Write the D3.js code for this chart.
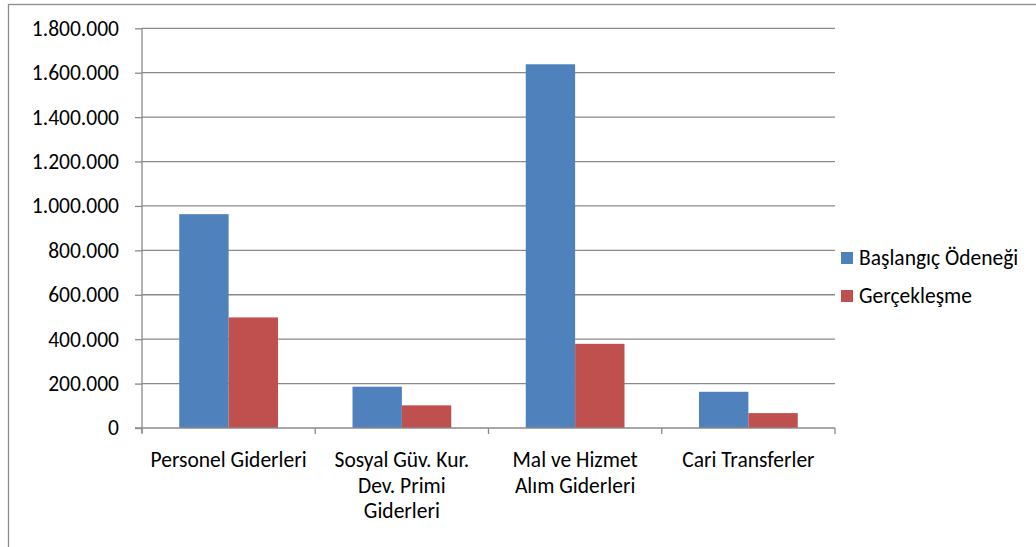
<!DOCTYPE html>
<html>
<head>
<meta charset="utf-8">
<script src="https://cdn.jsdelivr.net/npm/d3@7"></script>
<style>
  html, body { margin: 0; padding: 0; background: #fff; }
  svg text { font-family: Carlito, Lato, "Open Sans", sans-serif; fill: #000; }
</style>
</head>
<body>
<svg id="chart" width="1036" height="547"></svg>
<script>
const categories = ["Personel Giderleri", "Sosyal Güv. Kur. Dev. Primi Giderleri", "Mal ve Hizmet Alım Giderleri", "Cari Transferler"];
const seriesNames = ["Başlangıç Ödeneği", "Gerçekleşme"];
const baslangicOdenegi = [963000, 186000, 1638000, 163000];
const gerceklesme = [498000, 102000, 379000, 67000];
const yTicks = [0, 200000, 400000, 600000, 800000, 1000000, 1200000, 1400000, 1600000, 1800000];
const colors = ["#4F81BD", "#C0504D"];

const svg = d3.select("#chart");
const fontSize = 21.5;
const plot = { left: 142, right: 835, top: 28.3, bottom: 428 };

// outer border
svg.append("rect").attr("x", 8.5).attr("y", 4.5).attr("width", 1040).attr("height", 560)
  .attr("fill", "none").attr("stroke", "#8c8c8c").attr("stroke-width", 1.3);

const y = d3.scaleLinear().domain([0, 1800000]).range([plot.bottom, plot.top]);
const x0 = d3.scaleBand().domain(categories).range([plot.left, plot.right])
  .paddingInner(0.43).paddingOuter(0.215);
const x1 = d3.scaleBand().domain(seriesNames).range([0, x0.bandwidth()]);

const fmt = v => d3.format(",")(v).replace(/,/g, ".");

// gridlines
svg.append("g").selectAll("line").data(yTicks.filter(d => d > 0)).join("line")
  .attr("x1", plot.left).attr("x2", plot.right)
  .attr("y1", d => y(d)).attr("y2", d => y(d))
  .attr("stroke", "#8a8a8a").attr("stroke-width", 1.3);

// bars
const data = categories.map((c, i) => ({ c, vals: [baslangicOdenegi[i], gerceklesme[i]] }));
const groups = svg.append("g").selectAll("g").data(data).join("g")
  .attr("transform", d => `translate(${x0(d.c)},0)`);
groups.selectAll("rect").data(d => d.vals.map((v, j) => ({ v, s: seriesNames[j], j })))
  .join("rect")
  .attr("x", d => x1(d.s)).attr("width", x1.bandwidth())
  .attr("y", d => y(d.v)).attr("height", d => y(0) - y(d.v))
  .attr("fill", d => colors[d.j]);

// y axis
const yAxis = d3.axisLeft(y).tickValues(yTicks).tickFormat(fmt).tickSize(7).tickPadding(16);
const gy = svg.append("g").attr("transform", `translate(${plot.left},0)`).call(yAxis);
gy.select(".domain").attr("stroke", "#8a8a8a").attr("stroke-width", 1.3)
  .attr("d", `M0,${plot.top}V${plot.bottom + 5}`);
gy.selectAll(".tick line").attr("stroke", "#8a8a8a").attr("stroke-width", 1.3);
gy.selectAll(".tick text").attr("font-size", fontSize).attr("font-family", null).attr("fill", "#000");

// x axis
const gx = svg.append("g");
gx.append("line").attr("x1", plot.left - 7).attr("x2", plot.right)
  .attr("y1", plot.bottom).attr("y2", plot.bottom).attr("stroke", "#8a8a8a").attr("stroke-width", 1.3);
const boundaries = categories.map(c => x0(c) - x0.step() * x0.paddingOuter()).concat([plot.right]);
gx.selectAll("line.b").data(boundaries).join("line").attr("class", "b")
  .attr("x1", d => d).attr("x2", d => d).attr("y1", plot.bottom).attr("y2", plot.bottom + 6)
  .attr("stroke", "#8a8a8a").attr("stroke-width", 1.3);

function wrapLines(text, maxW) {
  const words = text.split(" ");
  const meas = svg.append("text").attr("font-size", fontSize);
  const lines = [];
  let cur = "";
  words.forEach(w => {
    const t = cur ? cur + " " + w : w;
    meas.text(t);
    if (meas.node().getComputedTextLength() > maxW && cur) { lines.push(cur); cur = w; }
    else cur = t;
  });
  if (cur) lines.push(cur);
  meas.remove();
  return lines;
}
categories.forEach(c => {
  const cx = x0(c) + x0.bandwidth() / 2;
  const lines = wrapLines(c, 162);
  const t = gx.append("text").attr("text-anchor", "middle").attr("font-size", fontSize);
  lines.forEach((l, i) => t.append("tspan").attr("x", cx).attr("y", 467 + i * 25.5).text(l));
});

// legend
const leg = svg.append("g").selectAll("g").data(seriesNames).join("g")
  .attr("transform", (d, i) => `translate(841,${252 + i * 38})`);
leg.append("rect").attr("width", 12).attr("height", 12).attr("fill", (d, i) => colors[i]);
leg.append("text").attr("x", 18).attr("y", 13).attr("font-size", fontSize).text(d => d);
</script>
</body>
</html>
